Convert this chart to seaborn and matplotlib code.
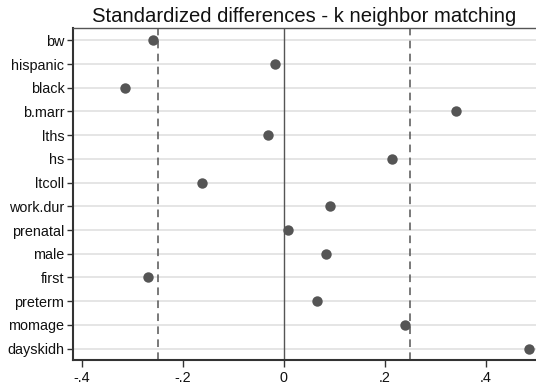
import matplotlib
matplotlib.use("Agg")
import matplotlib.pyplot as plt
import seaborn as sns
import pandas as pd

covariates = ["bw", "hispanic", "black", "b.marr", "lths", "hs", "ltcoll",
              "work.dur", "prenatal", "male", "first", "preterm", "momage", "dayskidh"]
std_diff = [-0.260, -0.017, -0.315, 0.341, -0.031, 0.214, -0.162,
            0.091, 0.009, 0.083, -0.269, 0.065, 0.240, 0.485]
x_ticks = [-0.4, -0.2, 0.0, 0.2, 0.4]
x_tick_labels = ["-.4", "-.2", "0", ".2", ".4"]
threshold = 0.25

sns.set_theme(style="white")
plt.rcParams["font.family"] = ["Liberation Sans", "DejaVu Sans"]

df = pd.DataFrame({"covariate": covariates, "diff": std_diff})

fig = plt.figure(figsize=(5.36, 3.85), dpi=100)
ax = fig.add_axes([0.1356, 0.0649, 0.8644, 0.8623])

# light horizontal guide at every covariate row
for i in range(len(covariates)):
    ax.axhline(i, color="#e3e3e3", lw=1.3, zorder=0)

ax.axvline(0, color="#555555", lw=1.0, zorder=1)
for t in (-threshold, threshold):
    ax.axvline(t, color="#555555", lw=1.1, ls=(0, (5, 3.5)), zorder=1)

sns.stripplot(data=df, x="diff", y="covariate", order=covariates, jitter=False,
              color="#555555", size=7.5, linewidth=0, ax=ax, zorder=3)

ax.set_xlim(-0.418, 0.499)
ax.set_ylim(len(covariates) - 0.52, -0.52)
ax.set_xticks(x_ticks)
ax.set_xticklabels(x_tick_labels)
ax.set_xlabel("")
ax.set_ylabel("")
ax.grid(False)

ax.tick_params(axis="y", which="major", length=4, width=1, color="#333333",
               labelsize=10.4, labelcolor="#111111", pad=2, left=True)
ax.tick_params(axis="x", which="major", length=5, width=1, color="#333333",
               labelsize=10.4, labelcolor="#111111", pad=3, bottom=True)

for side in ("left", "bottom"):
    ax.spines[side].set_color("#333333")
    ax.spines[side].set_linewidth(1.5)
ax.spines["top"].set_color("#555555")
ax.spines["top"].set_linewidth(1.0)
ax.spines["right"].set_visible(False)

ax.set_title("Standardized differences - k neighbor matching", fontsize=14.6,
             color="#111111", pad=4)

fig.savefig("out.png", dpi=100)
